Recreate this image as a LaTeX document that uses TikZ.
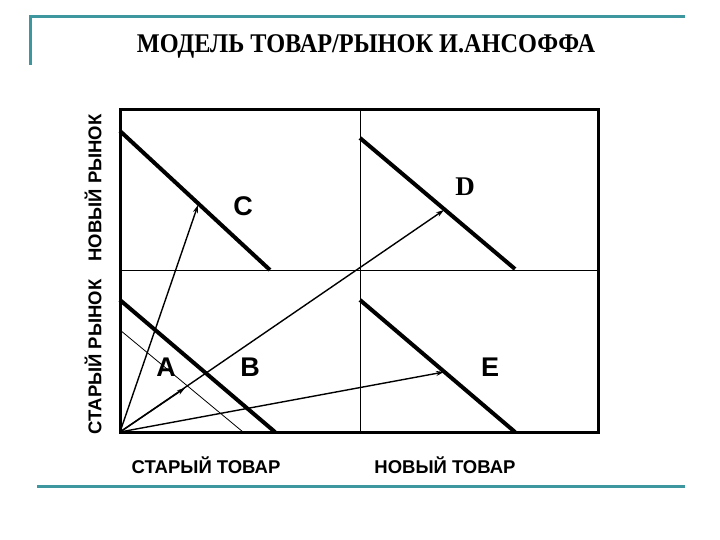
\documentclass[tikz,border=0pt]{standalone}
\usepackage{fontspec}
\setmainfont{Liberation Sans}
\newfontfamily\titlefont{Liberation Serif}
\usetikzlibrary{arrows.meta}
\definecolor{frameteal}{RGB}{62,150,158}
\begin{document}
\begin{tikzpicture}[x=1pt,y=-1pt,
  frameline/.style={frameteal,line width=3pt},
  boxline/.style={line width=3pt,line cap=rect},
  divline/.style={line width=1pt},
  diag/.style={line width=4pt},
  thindiag/.style={line width=0.8pt},
  arr/.style={line width=1.4pt,-{Stealth[length=8pt,width=5pt]}},
  letter/.style={font=\fontsize{27}{27}\selectfont\bfseries},
  axislab/.style={font=\fontsize{18.5}{18.5}\selectfont\bfseries}]
\useasboundingbox (0,0) rectangle (720,540);
% frame
\draw[frameline] (30,65) -- (30,17) -- (685,17);
\draw[frameline] (37,486) -- (685,486);
% title
\node (title) at (366,46) {\scalebox{0.9}[1]{\titlefont\bfseries\fontsize{27}{27}\selectfont МОДЕЛЬ ТОВАР/РЫНОК И.АНСОФФА}};
% matrix
\coordinate (O) at (120,432);
\draw[boxline] (120,110) rectangle (598,432);
\draw[divline] (120,270) -- (598,270);
\draw[divline] (360,110) -- (360,432);
% diagonals
\draw[diag] (120,131) -- (270,270);
\draw[diag] (120,300) -- (275,432);
\draw[thindiag] (120,330) -- (243,432);
\draw[diag] (360,138) -- (515,269);
\draw[diag] (360,300) -- (515,432);
% arrow targets
\coordinate (tC) at (198,205);
\coordinate (tD) at (444,210);
\coordinate (tA) at (185,388);
\coordinate (tE) at (444,372);
\draw[arr] (O) -- (tC);
\draw[arr] (O) -- (tD);
\draw[arr] (O) -- (tA);
\draw[arr] (O) -- (tE);
% letters
\node[letter] (C) at (243,206) {C};
\node[letter] (A) at (166,367) {A};
\node[letter] (B) at (250,367) {B};
\node[letter] (E) at (490,367) {E};
\node (D) at (465,187) {\titlefont\bfseries\fontsize{27}{27}\selectfont D};
% axis labels
\node[axislab,rotate=90] (oldm) at (93,357) {СТАРЫЙ РЫНОК};
\node[axislab,rotate=90] (newm) at (93,188) {НОВЫЙ РЫНОК};
\node[axislab] (oldp) at (206,465) {СТАРЫЙ ТОВАР};
\node[axislab] (newp) at (445,465) {НОВЫЙ ТОВАР};
\end{tikzpicture}
\end{document}
